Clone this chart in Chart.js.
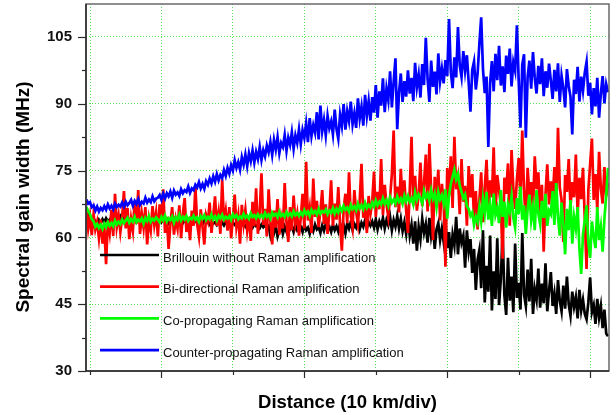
<!DOCTYPE html>
<html>
<head>
<meta charset="utf-8">
<script src="https://cdn.jsdelivr.net/npm/chart.js@4.4.1/dist/chart.umd.min.js"></script>
<style>
  html, body { margin: 0; padding: 0; background: #fff; }
  #wrap { width: 616px; height: 415px; }
</style>
</head>
<body>
<div id="wrap"><canvas id="chart" width="616" height="415"></canvas></div>
<script>
// --- Data (one sample every 0.125 km) ---
const distStart = -0.25;
const distStep = 0.125;

const seriesLabels = [
  'Brillouin without Raman amplification',
  'Bi-directional Raman amplification',
  'Co-propagating Raman amplification',
  'Counter-propagating Raman amplification'
];
const seriesColors = ['#000000', '#ff0000', '#00ff00', '#0000ff'];

const brillouin = [
  66.2, 65.0, 64.4, 63.5, 63.0, 63.6, 62.8, 63.9, 63.2, 64.1, 63.4, 64.3, 63.6, 64.0, 63.3, 64.4, 63.7, 64.2, 63.5, 64.6,
  63.6, 64.3, 63.9, 64.6, 63.4, 64.1, 63.7, 64.5, 63.5, 64.2, 63.8, 64.4, 63.3, 64.0, 63.6, 64.3, 63.2, 64.1, 63.7, 64.2,
  63.6, 64.3, 63.4, 64.0, 63.7, 64.1, 63.2, 63.9, 63.6, 64.2, 63.3, 63.9, 63.5, 64.0, 63.2, 63.8, 63.5, 64.0, 63.3, 63.8,
  63.5, 63.9, 63.1, 63.7, 63.4, 63.0, 63.8, 63.2, 63.5, 62.9, 63.6, 63.1, 63.4, 62.8, 63.5, 63.0, 63.3, 62.7, 63.4, 62.9,
  63.3, 62.6, 63.4, 62.8, 63.1, 62.5, 63.2, 62.7, 63.0, 62.4, 63.1, 62.6, 62.9, 62.2, 63.0, 62.5, 62.8, 62.1, 62.9, 62.3,
  62.8, 61.8, 62.5, 60.4, 62.2, 61.0, 62.6, 60.2, 61.6, 62.8, 60.8, 62.4, 61.3, 62.9, 61.8, 62.5, 61.2, 62.8, 61.6, 62.2,
  62.4, 61.2, 62.9, 61.6, 62.2, 60.8, 62.6, 61.4, 62.9, 61.8, 62.3, 61.0, 62.7, 61.5, 63.0, 61.9, 62.4, 61.2, 62.8, 61.6,
  62.5, 61.3, 63.1, 61.9, 62.7, 60.9, 63.2, 62.0, 63.5, 61.6, 63.0, 62.2, 63.7, 61.8, 63.3, 62.4, 63.9, 62.0, 63.4, 62.6,
  63.6, 62.2, 64.1, 61.8, 63.6, 62.5, 64.4, 62.0, 63.9, 62.7, 64.6, 61.6, 63.9, 62.4, 64.8, 62.0, 64.2, 61.4, 63.4, 60.8,
  64.6, 60.4, 62.8, 58.6, 63.6, 57.0, 62.4, 59.6, 64.2, 61.0, 63.0, 58.8, 64.4, 60.2, 62.6, 57.4, 61.8, 63.2, 59.4, 62.0,
  59.0, 63.6, 57.6, 61.2, 55.4, 60.6, 58.2, 64.6, 56.2, 62.0, 58.8, 60.4, 53.2, 61.6, 56.8, 59.6, 52.0, 57.4, 48.2, 55.0,
  57.2, 48.6, 61.6, 45.4, 53.6, 47.8, 60.4, 43.6, 52.4, 46.2, 59.8, 44.8, 50.6, 61.2, 47.0, 42.6, 55.4, 45.8, 51.2, 43.2,
  58.6, 46.4, 49.8, 43.8, 61.0, 47.2, 44.6, 52.8, 45.6, 55.2, 42.8, 48.4, 46.0, 53.0, 44.2, 49.6, 45.2, 54.2, 43.4, 48.0,
  52.2, 44.6, 47.4, 42.8, 50.4, 45.8, 43.4, 49.2, 44.0, 51.2, 45.0, 42.4, 47.8, 44.4, 46.6, 41.8, 48.2, 43.6, 46.0, 42.8,
  41.6, 45.4, 51.0, 43.2, 44.8, 40.6, 46.2, 42.0, 44.6, 39.6, 43.8, 38.4, 37.8
];

const biDirectional = [
  66.5, 62.0, 64.8, 60.5, 65.2, 61.8, 63.5, 59.8, 64.0, 58.6, 62.5, 54.0, 63.8, 61.0, 66.2, 60.3, 69.8, 62.4, 65.0, 61.2,
  64.5, 70.4, 62.0, 66.6, 59.6, 64.2, 61.5, 68.0, 63.0, 70.6, 60.8, 65.3, 62.2, 66.8, 58.4, 64.0, 61.6, 67.0, 62.8, 65.6,
  60.2, 67.4, 63.3, 70.8, 61.0, 64.6, 57.4, 63.0, 66.8, 60.6, 64.1, 62.0, 67.2, 59.8, 65.4, 68.8, 61.2, 64.6, 59.4, 66.0,
  62.6, 71.4, 63.0, 60.2, 66.3, 62.4, 58.4, 65.0, 63.6, 67.8, 61.0, 64.8, 69.2, 62.6, 65.6, 60.8, 73.0, 63.4, 66.0, 61.5,
  66.8, 59.8, 64.2, 69.6, 62.4, 65.0, 58.6, 67.3, 63.0, 66.2, 61.5, 64.8, 59.2, 68.0, 62.5, 71.0, 60.8, 65.6, 74.4, 62.8,
  66.4, 60.2, 70.8, 63.6, 58.4, 66.0, 62.2, 68.6, 60.6, 64.5, 62.0, 72.2, 63.5, 59.0, 66.8, 61.6, 69.4, 63.2, 65.4, 60.4,
  64.4, 69.8, 62.0, 77.0, 63.8, 66.6, 61.0, 73.2, 64.6, 68.2, 62.3, 66.0, 70.6, 63.0, 67.4, 60.8, 65.8, 72.8, 62.6, 67.6,
  64.0, 71.3, 62.8, 57.0, 66.4, 69.8, 63.2, 74.6, 64.8, 62.2, 70.6, 65.8, 63.0, 68.2, 76.5, 64.4, 67.6, 61.0, 69.3, 65.2,
  68.0, 74.8, 64.6, 70.2, 66.3, 77.6, 65.0, 71.8, 67.4, 64.6, 69.0, 74.2, 84.0, 66.8, 71.4, 65.6, 75.4, 68.2, 72.8, 66.0,
  61.0, 70.4, 82.6, 67.2, 73.8, 66.0, 69.6, 76.8, 67.0, 72.2, 78.6, 65.8, 81.0, 70.4, 59.4, 73.6, 68.6, 75.2, 63.8, 72.0,
  67.8, 53.4, 75.6, 69.4, 78.2, 66.6, 82.6, 70.8, 73.4, 65.2, 77.6, 68.0, 71.6, 62.6, 76.0, 69.0, 74.2, 64.0, 70.4, 61.8,
  68.4, 74.6, 63.4, 71.2, 77.4, 66.2, 72.8, 69.0, 80.2, 65.4, 74.0, 70.6, 67.0, 55.2, 73.4, 69.8, 76.6, 62.6, 79.6, 71.0,
  66.4, 73.0, 77.8, 68.6, 84.0, 70.2, 63.8, 75.6, 69.4, 72.4, 66.0, 78.2, 70.8, 74.6, 65.4, 71.8, 56.8, 69.6, 76.4, 67.4,
  72.6, 68.0, 75.8, 66.6, 84.6, 71.2, 68.4, 59.0, 74.0, 70.2, 77.6, 66.8, 72.4, 69.0, 78.6, 65.2, 73.4, 68.6, 75.6, 64.2,
  52.9, 70.6, 76.4, 82.2, 68.4, 74.2, 66.2, 79.2, 71.0, 67.6, 75.8, 69.2, 72.2
];

const coPropagating = [
  66.8, 65.9, 65.2, 64.1, 63.6, 62.4, 63.0, 62.1, 62.8, 61.9, 63.1, 62.3, 63.4, 62.6, 63.2, 62.5, 63.8, 62.9, 63.5, 63.0,
  64.0, 63.2, 63.8, 64.4, 63.3, 64.1, 63.5, 64.6, 63.4, 64.0, 63.6, 64.3, 63.1, 64.4, 63.7, 64.8, 63.5, 64.2, 63.8, 64.5,
  64.0, 63.4, 64.6, 63.8, 64.9, 63.6, 64.3, 63.9, 64.7, 63.3, 64.5, 63.9, 65.1, 63.8, 64.6, 64.0, 64.8, 63.7, 64.4, 64.1,
  64.9, 64.0, 64.5, 63.5, 64.8, 64.2, 65.0, 63.9, 64.6, 64.1, 65.2, 64.0, 64.7, 63.8, 64.9, 64.3, 65.1, 64.0, 64.6, 64.2,
  64.8, 63.9, 65.2, 64.5, 65.0, 64.1, 64.7, 64.3, 65.3, 64.4, 64.9, 64.2, 65.4, 64.6, 65.0, 64.3, 65.2, 64.5, 65.0, 64.4,
  65.5, 64.6, 65.1, 64.2, 65.6, 64.9, 65.3, 64.5, 65.8, 64.8, 65.2, 64.6, 65.7, 64.9, 65.4, 64.7, 65.9, 65.0, 65.5, 64.8,
  65.6, 64.9, 66.1, 65.2, 65.8, 64.8, 66.2, 65.4, 65.9, 65.1, 66.4, 65.3, 65.9, 65.6, 66.3, 65.2, 66.0, 65.5, 66.6, 65.3,
  66.4, 65.6, 66.8, 65.9, 67.1, 66.2, 66.7, 65.8, 67.3, 66.4, 67.0, 66.1, 67.6, 66.5, 67.2, 66.3, 67.8, 66.6, 67.3, 66.7,
  67.8, 66.9, 68.3, 67.2, 68.0, 67.4, 68.8, 67.5, 68.4, 67.1, 69.0, 67.8, 68.5, 67.6, 69.2, 68.0, 68.7, 67.5, 69.4, 68.1,
  69.3, 68.0, 68.8, 67.4, 70.1, 68.4, 69.6, 68.8, 67.6, 70.4, 68.9, 69.8, 68.2, 70.6, 68.7, 69.9, 66.8, 70.2, 68.5, 69.5,
  67.6, 70.8, 64.2, 69.4, 72.0, 73.6, 75.2, 73.0, 74.2, 71.6, 70.2, 68.8, 69.6, 67.0, 66.4, 64.8, 65.6, 62.8, 64.6, 63.4,
  66.8, 63.6, 68.6, 65.4, 70.2, 64.0, 67.2, 62.6, 69.8, 65.0, 66.6, 63.2, 70.6, 64.6, 68.0, 62.2, 67.4, 65.8, 69.2, 64.4,
  62.2, 68.8, 65.2, 71.4, 64.0, 67.2, 60.8, 66.4, 69.6, 63.8, 66.8, 61.6, 70.6, 65.4, 63.0, 68.2, 64.4, 69.8, 62.6, 66.0,
  65.2, 70.4, 62.8, 72.2, 64.6, 60.4, 67.8, 63.0, 56.2, 66.4, 61.6, 68.4, 58.6, 64.6, 62.0, 66.8, 57.4, 51.8, 60.6, 63.8,
  67.2, 58.8, 55.4, 63.6, 60.2, 57.6, 66.8, 59.4, 62.4, 56.8, 64.2, 69.4, 75.6
];

const counterPropagating = [
  68.5, 67.6, 67.9, 66.8, 67.2, 66.0, 66.9, 65.8, 66.6, 66.1, 67.0, 66.2, 67.4, 66.5, 67.1, 66.3, 67.6, 66.8, 67.3, 66.9,
  67.8, 66.9, 68.0, 67.2, 67.7, 68.4, 67.1, 68.2, 67.5, 68.6, 67.3, 68.0, 67.6, 68.9, 67.8, 68.5, 67.9, 69.2, 68.1, 68.7,
  68.9, 69.5, 68.4, 69.8, 68.7, 69.9, 69.2, 70.3, 68.9, 70.5, 69.6, 70.1, 69.3, 70.8, 69.9, 70.6, 70.2, 71.4, 70.0, 71.0,
  70.6, 71.8, 71.2, 72.4, 71.0, 72.0, 70.9, 72.6, 71.8, 73.2, 72.1, 73.7, 72.5, 74.2, 72.8, 74.0, 73.3, 75.1, 73.8, 75.6,
  74.3, 76.2, 75.0, 77.3, 75.6, 76.9, 75.2, 78.0, 76.3, 78.6, 76.0, 78.9, 77.1, 79.5, 76.8, 79.2, 77.6, 80.3, 77.4, 79.6,
  78.2, 80.6, 79.1, 81.4, 78.5, 81.9, 79.7, 82.5, 78.9, 81.2, 80.3, 83.0, 79.4, 82.4, 80.8, 83.6, 79.9, 82.9, 81.2, 84.3,
  80.9, 84.1, 82.3, 85.6, 81.4, 86.8, 82.7, 85.2, 83.5, 88.1, 82.0, 89.6, 83.8, 86.4, 82.9, 87.3, 84.5, 86.0, 83.1, 88.7,
  84.3, 82.1, 87.5, 85.0, 89.9, 84.2, 88.3, 86.1, 90.5, 85.4, 87.9, 84.6, 91.2, 86.7, 89.4, 85.1, 92.0, 87.3, 90.6, 86.2,
  91.5, 88.0, 94.2, 86.9, 92.8, 89.6, 95.7, 88.1, 93.4, 90.8, 97.3, 89.2, 94.9, 100.2, 84.3, 92.5, 96.8, 90.4, 95.1, 91.6,
  97.5, 92.3, 95.8, 90.6, 99.2, 93.7, 96.5, 91.4, 98.9, 94.2, 104.8, 95.6, 90.4, 99.7, 93.8, 97.2, 92.1, 101.3, 95.0, 97.9,
  94.6, 99.8, 96.2, 109.0, 97.1, 93.5, 100.4, 95.9, 107.2, 98.6, 96.0, 101.8, 97.4, 100.9, 94.8, 88.2, 97.6, 99.5, 93.2, 96.8,
  103.5, 109.4, 97.8, 92.4, 96.1, 80.3, 94.7, 99.6, 92.8, 101.2, 95.3, 103.0, 94.1, 98.4, 92.6, 100.8, 96.7, 102.4, 93.9, 99.3,
  97.4, 107.6, 95.2, 84.6, 98.8, 101.1, 82.4, 96.0, 99.7, 93.4, 101.6, 95.8, 92.3, 98.5, 94.4, 100.2, 91.7, 97.3, 93.6, 99.0,
  95.2, 91.1, 97.6, 92.8, 99.1, 90.4, 96.3, 93.5, 89.2, 97.8, 94.0, 91.6, 83.1, 95.4, 92.2, 98.3, 90.5, 96.1, 92.9, 97.0,
  99.4, 91.8, 94.7, 87.6, 93.5, 89.4, 95.8, 86.9, 92.3, 96.2, 90.1, 94.4, 92.6
];

// axis ticks
const yMajorTicks = [30, 45, 60, 75, 90, 105];
const yMinorTicks = [37.5, 52.5, 67.5, 82.5, 97.5];
const xLongTicks = [5, 15, 25, 35];
const xShortTicks = [0, 10, 20, 30];

// --- Build datasets ---
function toPoints(values) {
  return values.map((v, i) => ({ x: distStart + i * distStep, y: v }));
}

const allSeries = [brillouin, biDirectional, coPropagating, counterPropagating];
const datasets = allSeries.map((values, i) => ({
  label: seriesLabels[i],
  data: toPoints(values),
  borderColor: seriesColors[i],
  borderWidth: 2.7,
  pointRadius: 0,
  tension: 0,
  order: 4 - i // blue drawn last (on top)
}));

const FONT = '"Liberation Sans", Arial, sans-serif';

// --- Frame, tick marks, legend and y title ---
const decor = {
  id: 'decor',
  afterDraw(chart) {
    const { ctx, chartArea: a, scales: { x, y } } = chart;
    ctx.save();

    // frame
    ctx.strokeStyle = '#6a6a6a';
    ctx.lineWidth = 1.5;
    ctx.strokeRect(a.left, a.top, a.right - a.left, a.bottom - a.top);
    ctx.strokeStyle = '#2a2a2a';
    ctx.beginPath();
    ctx.moveTo(a.left, a.top);
    ctx.lineTo(a.left, a.bottom);
    ctx.lineTo(a.right, a.bottom);
    ctx.stroke();

    // x ticks (outside, below)
    ctx.lineWidth = 1.2;
    xLongTicks.concat(xShortTicks).forEach(v => {
      const px = Math.round(x.getPixelForValue(v)) + 0.5;
      const len = xLongTicks.includes(v) ? 7 : 4;
      ctx.beginPath();
      ctx.moveTo(px, a.bottom);
      ctx.lineTo(px, a.bottom + len);
      ctx.stroke();
    });

    // y ticks (outside, left)
    yMajorTicks.concat(yMinorTicks).forEach(v => {
      const py = Math.round(y.getPixelForValue(v)) + 0.5;
      const len = yMajorTicks.includes(v) ? 8 : 4;
      ctx.beginPath();
      ctx.moveTo(a.left - len, py);
      ctx.lineTo(a.left, py);
      ctx.stroke();
    });

    // legend inside plot, bottom-left
    ctx.font = '13px ' + FONT;
    ctx.textBaseline = 'middle';
    ctx.fillStyle = '#111';
    chart.data.datasets.forEach((ds, i) => {
      const ly = 255 + i * 31.7;
      ctx.strokeStyle = ds.borderColor;
      ctx.lineWidth = 2.7;
      ctx.beginPath();
      ctx.moveTo(100, ly);
      ctx.lineTo(159, ly);
      ctx.stroke();
      ctx.fillText(ds.label, 163, ly + 3);
    });

    // y axis title
    ctx.translate(24, 197);
    ctx.rotate(-Math.PI / 2);
    ctx.font = 'bold 19px ' + FONT;
    ctx.textAlign = 'center';
    ctx.fillStyle = '#000';
    ctx.fillText('Spectral gain width (MHz)', 0, 0);

    ctx.restore();
  }
};

new Chart(document.getElementById('chart'), {
  type: 'line',
  data: { datasets: datasets },
  plugins: [decor],
  options: {
    responsive: false,
    animation: false,
    devicePixelRatio: 1,
    layout: { padding: { left: 0, right: 7, top: 4, bottom: 0 } },
    plugins: { legend: { display: false }, tooltip: { enabled: false } },
    scales: {
      x: {
        type: 'linear',
        min: -0.28,
        max: 36.32,
        afterBuildTicks: s => { s.ticks = xShortTicks.concat(xLongTicks).sort((p, q) => p - q).map(v => ({ value: v })); },
        afterFit: s => { s.height = 44; s.paddingLeft = 0; s.paddingRight = 0; },
        ticks: { display: false },
        grid: { color: '#55e055', lineWidth: 1, drawTicks: false },
        border: { display: false, dash: [1, 2] },
        title: {
          display: true,
          text: 'Distance (10 km/div)',
          font: { family: FONT, size: 18.5, weight: 'bold' },
          color: '#000',
          padding: { top: 0, bottom: 1 }
        }
      },
      y: {
        min: 30,
        max: 112.4,
        afterBuildTicks: s => { s.ticks = yMajorTicks.map(v => ({ value: v })); },
        afterFit: s => { s.width = 86; s.paddingTop = 0; s.paddingBottom = 0; },
        ticks: {
          padding: 14,
          color: '#111',
          font: { family: FONT, size: 15, weight: 'bold' }
        },
        grid: { color: '#55e055', lineWidth: 1, drawTicks: false },
        border: { display: false, dash: [1, 2] }
      }
    }
  }
});
</script>
</body>
</html>
